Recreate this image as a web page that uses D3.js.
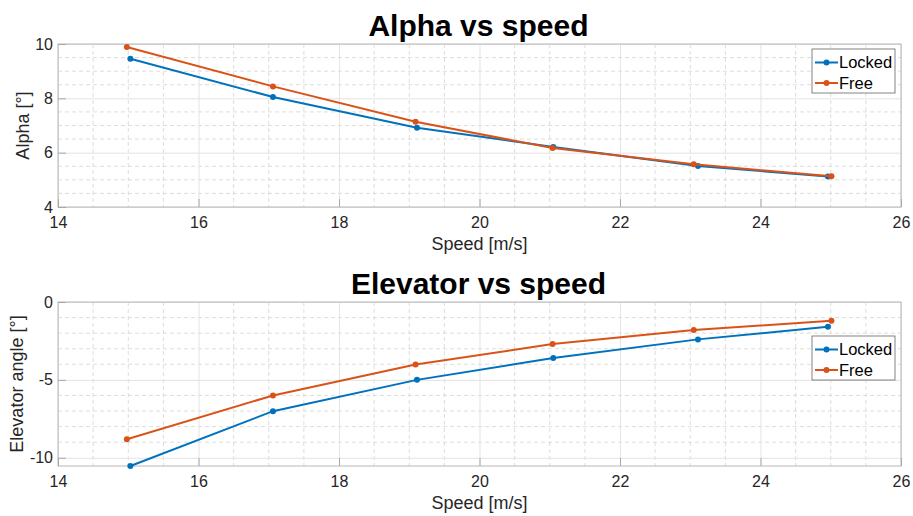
<!DOCTYPE html>
<html>
<head>
<meta charset="utf-8">
<script src="https://cdn.jsdelivr.net/npm/d3@7"></script>
<style>
  body { margin: 0; background: #fff; }
  svg { font-family: "Liberation Sans", Arial, sans-serif; }
  .domain { display: none; }
</style>
</head>
<body>
<div id="chart"></div>
<script>
// values
const speedLocked = [15.03, 17.06, 19.11, 21.05, 23.11, 24.96];
const speedFree = [14.98, 17.06, 19.09, 21.04, 23.05, 25.01];
const alphaLocked = [9.46, 8.05, 6.92, 6.21, 5.51, 5.12];
const alphaFree = [9.89, 8.44, 7.14, 6.17, 5.57, 5.13];
const elevLocked = [-10.53, -7.01, -5.0, -3.6, -2.4, -1.59];
const elevFree = [-8.81, -6.0, -4.01, -2.7, -1.8, -1.2];

const xTicks = [14, 16, 18, 20, 22, 24, 26];
const alphaTicks = [4, 6, 8, 10];
const elevTicks = [-10, -5, 0];
const seriesNames = ['Locked', 'Free'];
const colors = ['#0072BD', '#D95319'];

const width = 913;
const height = 516;

const svg = d3.select('#chart')
  .append('svg')
  .attr('width', width)
  .attr('height', height);

function drawPanel(opts) {
  const { top, bottom, yDomain, yTicks, yMinorStep, title, yLabel, locked, free, legendTop } = opts;
  const left = 58;
  const right = 901;

  const x = d3.scaleLinear().domain([14, 26]).range([left, right]);
  const y = d3.scaleLinear().domain(yDomain).range([bottom, top]);

  const g = svg.append('g');

  // minor grid (dashed)
  const xMinor = d3.range(14.5, 26, 0.5).filter((v) => !xTicks.includes(v));
  const yMinor = d3.range(Math.ceil(yDomain[0] / yMinorStep) * yMinorStep, yDomain[1], yMinorStep)
    .filter((v) => !yTicks.some((t) => Math.abs(t - v) < 1e-6));

  g.append('g')
    .selectAll('line')
    .data(xMinor)
    .join('line')
    .attr('x1', (d) => x(d)).attr('x2', (d) => x(d))
    .attr('y1', top).attr('y2', bottom)
    .attr('stroke', '#d4d4d4')
    .attr('stroke-dasharray', '4,3')
    .attr('stroke-width', 0.8);

  g.append('g')
    .selectAll('line')
    .data(yMinor)
    .join('line')
    .attr('x1', left).attr('x2', right)
    .attr('y1', (d) => y(d)).attr('y2', (d) => y(d))
    .attr('stroke', '#d4d4d4')
    .attr('stroke-dasharray', '4,3')
    .attr('stroke-width', 0.8);

  // major grid
  g.append('g')
    .attr('transform', `translate(0, ${bottom})`)
    .call(d3.axisBottom(x).tickValues(xTicks).tickFormat('').tickSize(-(bottom - top)))
    .selectAll('.tick line').attr('stroke', '#e3e3e3');

  g.append('g')
    .attr('transform', `translate(${left}, 0)`)
    .call(d3.axisLeft(y).tickValues(yTicks).tickFormat('').tickSize(-(right - left)))
    .selectAll('.tick line').attr('stroke', '#e3e3e3');

  // box
  g.append('rect')
    .attr('x', left).attr('y', top)
    .attr('width', right - left).attr('height', bottom - top)
    .attr('fill', 'none')
    .attr('stroke', '#b8b8b8')
    .attr('stroke-width', 1);

  // inner ticks + labels (plain hyphen for negatives, like the original)
  const xAxis = g.append('g')
    .attr('transform', `translate(0, ${bottom})`)
    .attr('font-size', 16)
    .call(d3.axisBottom(x).tickValues(xTicks).tickFormat((d) => String(d)).tickSize(-8).tickPadding(10));
  xAxis.selectAll('.tick line').attr('stroke', '#a8a8a8');

  const yAxis = g.append('g')
    .attr('transform', `translate(${left}, 0)`)
    .call(d3.axisLeft(y).tickValues(yTicks).tickFormat((d) => String(d)).tickSize(-8).tickPadding(5));
  yAxis.selectAll('.tick line').attr('stroke', '#a8a8a8');

  xAxis.attr('font-size', 16).attr('font-family', '"Liberation Sans", Arial, sans-serif');
  yAxis.attr('font-size', 16).attr('font-family', '"Liberation Sans", Arial, sans-serif');
  g.selectAll('.tick text').attr('fill', '#262626');

  // title and labels
  g.append('text')
    .attr('x', (left + right) / 2 - 1)
    .attr('y', top - 8)
    .attr('text-anchor', 'middle')
    .style('font-size', '30px')
    .style('font-weight', 'bold')
    .attr('fill', '#000')
    .text(title);

  g.append('text')
    .attr('x', (left + right) / 2)
    .attr('y', bottom + 43)
    .attr('text-anchor', 'middle')
    .style('font-size', '18px')
    .attr('fill', '#262626')
    .text('Speed [m/s]');

  g.append('text')
    .attr('transform', `translate(${opts.yLabelX}, ${(top + bottom) / 2}) rotate(-90)`)
    .attr('text-anchor', 'middle')
    .style('font-size', '18px')
    .attr('fill', '#262626')
    .text(yLabel);

  // series
  const series = [
    { name: seriesNames[0], xs: speedLocked, ys: locked, color: colors[0] },
    { name: seriesNames[1], xs: speedFree, ys: free, color: colors[1] },
  ];

  const line = d3.line().x((d) => x(d[0])).y((d) => y(d[1]));

  series.forEach((s) => {
    const pts = s.xs.map((v, i) => [v, s.ys[i]]);
    g.append('path')
      .datum(pts)
      .attr('d', line)
      .attr('fill', 'none')
      .attr('stroke', s.color)
      .attr('stroke-width', 2);
    g.append('g')
      .selectAll('circle')
      .data(pts)
      .join('circle')
      .attr('cx', (d) => x(d[0]))
      .attr('cy', (d) => y(d[1]))
      .attr('r', 3)
      .attr('fill', s.color);
  });

  // legend
  const lg = g.append('g').attr('transform', `translate(812, ${legendTop})`);
  lg.append('rect')
    .attr('width', 83).attr('height', 44)
    .attr('fill', '#fff')
    .attr('stroke', '#4d4d4d')
    .attr('stroke-width', 0.7);

  series.forEach((s, i) => {
    const cy = 13.5 + i * 20.5;
    lg.append('line')
      .attr('x1', 3).attr('x2', 26)
      .attr('y1', cy).attr('y2', cy)
      .attr('stroke', s.color)
      .attr('stroke-width', 2);
    lg.append('circle')
      .attr('cx', 14.5).attr('cy', cy).attr('r', 3)
      .attr('fill', s.color);
    lg.append('text')
      .attr('x', 27)
      .attr('y', cy)
      .attr('dy', '0.36em')
      .style('font-size', '16.5px')
      .attr('fill', '#000')
      .text(s.name);
  });
}

drawPanel({
  top: 44, bottom: 207,
  yDomain: [4, 10], yTicks: alphaTicks, yMinorStep: 0.5,
  title: 'Alpha vs speed', yLabel: 'Alpha [°]', yLabelX: 29,
  locked: alphaLocked, free: alphaFree, legendTop: 49,
});

drawPanel({
  top: 302, bottom: 466,
  yDomain: [-10.53, 0], yTicks: elevTicks, yMinorStep: 1,
  title: 'Elevator vs speed', yLabel: 'Elevator angle [°]', yLabelX: 23,
  locked: elevLocked, free: elevFree, legendTop: 336,
});
</script>
</body>
</html>
